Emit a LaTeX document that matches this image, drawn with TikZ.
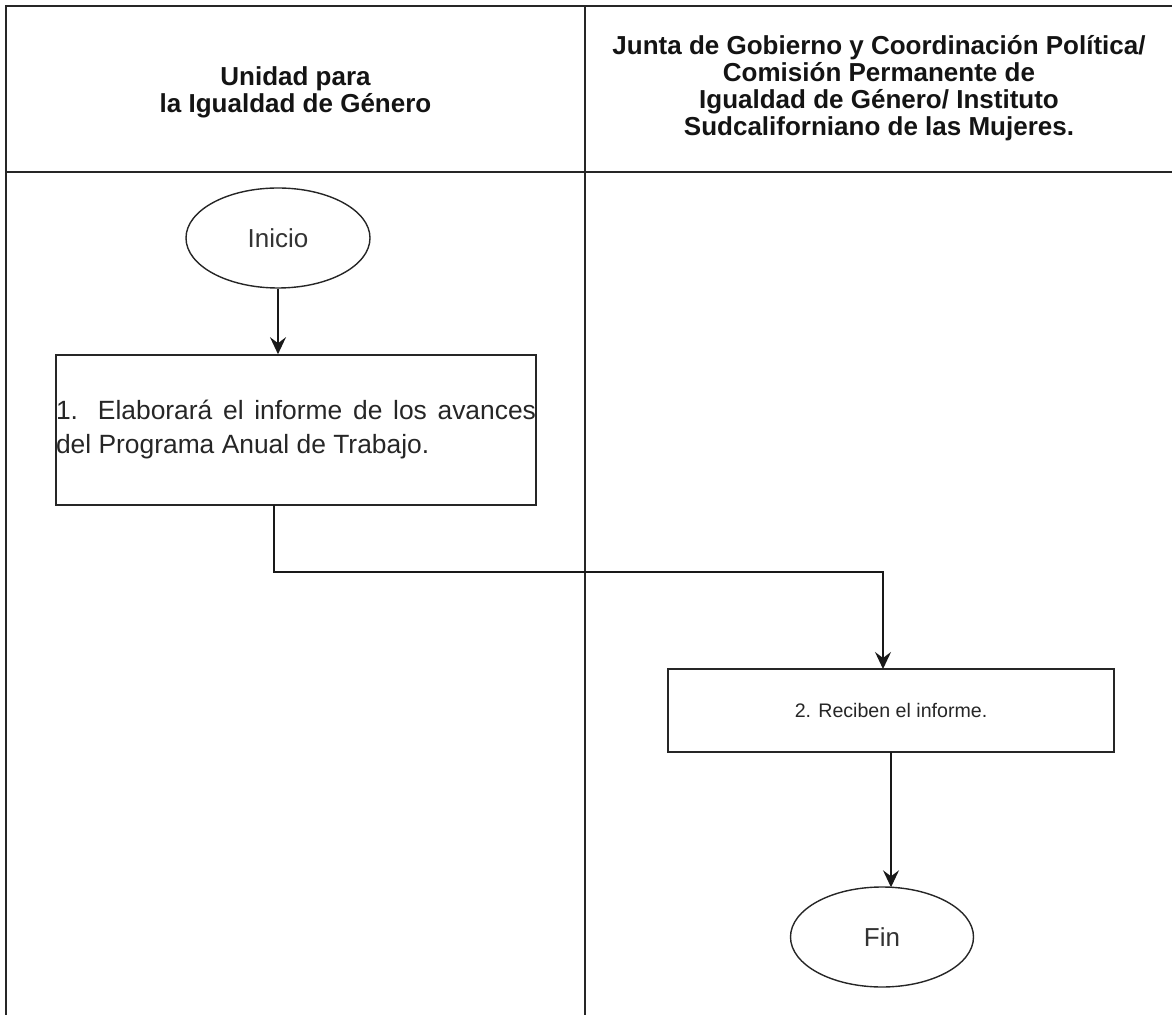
\documentclass[tikz,border=0pt]{standalone}
\usepackage{fontspec}
\setmainfont{Liberation Sans}
\usetikzlibrary{shapes.geometric,arrows.meta}

\tikzset{
  lane/.style={line width=1pt, draw=black!85},
  head/.style={font=\bfseries\fontsize{13pt}{13.5pt}\selectfont, align=center, text=black!92},
  stepbox/.style={draw=black!85, line width=0.8pt, rectangle, inner sep=0pt, text=black!85},
  term/.style={draw=black!85, line width=0.7pt, ellipse, inner sep=0pt,
               font=\fontsize{13pt}{14pt}\selectfont, text=black!80},
  flow/.style={draw=black!90, line width=0.7pt,
               -{Stealth[length=8.5pt, width=8pt, inset=3pt]}},
}

\begin{document}
\begin{tikzpicture}[x=0.5pt, y=-0.5pt]
  \useasboundingbox (0,0) rectangle (1172,1015);

  % swimlane frame
  \coordinate (tl) at (6,6);
  \coordinate (tr) at (1172,6);
  \coordinate (bl) at (6,1015);
  \coordinate (mt) at (585,6);
  \coordinate (mb) at (585,1015);
  \coordinate (hl) at (6,172);
  \coordinate (hr) at (1172,172);
  \draw[lane] (bl) -- (tl) -- (tr);
  \draw[lane] (mt) -- (mb);
  \draw[lane] (hl) -- (hr);

  % lane titles
  \node[head] (laneA) at (295.5,92) {Unidad para\\la Igualdad de Género};
  \node[head] (laneB) at (879,88) {Junta de Gobierno y Coordinación Política/\\Comisión Permanente de\\Igualdad de Género/ Instituto\\Sudcaliforniano de las Mujeres.};

  % flow nodes
  \node[term, minimum width=92pt, minimum height=50pt] (ini) at (278,238) {Inicio};
  \node[stepbox, minimum width=240pt, minimum height=75pt, text width=240pt,
        align=justify, font=\fontsize{13.2pt}{17pt}\selectfont] (s1) at (296,430)
        {1. Elaborará el informe de los avances\linebreak del Programa Anual de Trabajo.};
  \node[stepbox, minimum width=223pt, minimum height=41.5pt,
        font=\fontsize{9.8pt}{12pt}\selectfont] (s2) at (891,710.5) {2. Reciben el informe.};
  \node[term, minimum width=91.5pt, minimum height=50pt] (fin) at (882,937) {Fin};

  % connectors
  \coordinate (s1out) at (274,505);
  \coordinate (bend1) at (274,572);
  \coordinate (bend2) at (883,572);
  \coordinate (s2in) at (883,669);
  \draw[flow] (ini.south) -- (ini.south |- s1.north);
  \draw[flow] (s1out) -- (bend1) -- (bend2) -- (s2in);
  \coordinate (s2out) at (891,752);
  \coordinate (finin) at (891,887.3);
  \draw[flow] (s2out) -- (finin);
\end{tikzpicture}
\end{document}
